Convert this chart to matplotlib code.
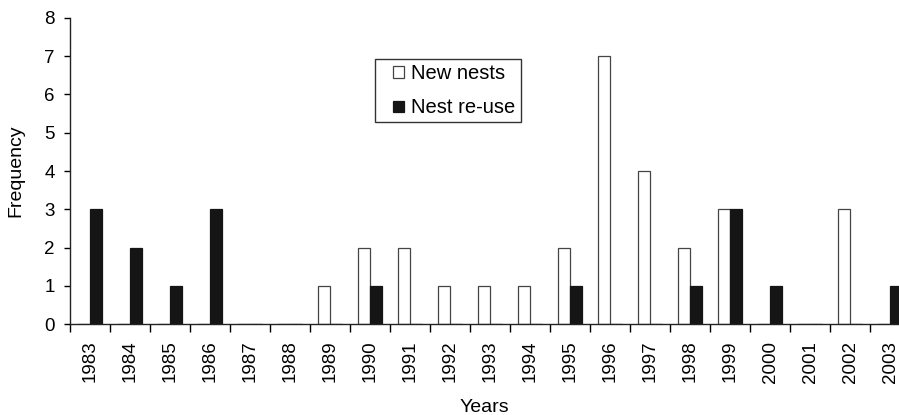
import numpy as np
import matplotlib
matplotlib.use("Agg")
import matplotlib.pyplot as plt
import matplotlib.patches as mpatches
from matplotlib.container import BarContainer
from matplotlib.legend_handler import HandlerPatch, update_from_first_child

plt.rcParams['font.family'] = ['Liberation Sans', 'DejaVu Sans']

# data
years = [str(y) for y in range(1983, 2004)]
new_nests = [0, 0, 0, 0, 0, 0, 1, 2, 2, 1, 1, 1, 2, 7, 4, 2, 3, 0, 0, 3, 0]
nest_reuse = [3, 2, 1, 3, 0, 0, 0, 1, 0, 0, 0, 0, 1, 0, 0, 1, 3, 1, 0, 0, 1]

W, H = 899, 415
fig = plt.figure(figsize=(W / 100, H / 100), dpi=100)
# axes spans 21 categories of ~40px from x=70, runs a bit past the right edge
ax = fig.add_axes([70 / W, 1 - 324 / H, 840 / W, (324 - 18) / H])

x = np.arange(len(years))
bw = 0.29
ax.bar(x - 0.145, new_nests, bw, color='white', edgecolor='#444444', linewidth=0.9,
       label='New nests')
ax.bar(x + 0.145, nest_reuse, bw, color='#151515', edgecolor='#151515', linewidth=0.9,
       label='Nest re-use')

ax.set_xlim(-0.5, len(years) - 0.5)
ax.set_ylim(0, 8)
ax.set_yticks(range(0, 9))
ax.tick_params(axis='y', direction='out', length=4, width=1, labelsize=13.5, pad=7)

# category labels centered, tick marks on boundaries
ax.set_xticks(x)
ax.set_xticklabels(years, rotation=90, fontsize=13.5)
ax.tick_params(axis='x', which='major', length=0, pad=12)
ax.set_xticks(np.arange(-0.5, len(years), 1), minor=True)
ax.tick_params(axis='x', which='minor', direction='out', length=6, width=1)

for s in ['top', 'right']:
    ax.spines[s].set_visible(False)
for s in ['left', 'bottom']:
    ax.spines[s].set_linewidth(1)
    ax.spines[s].set_color('#222222')

fig.text(16 / W, 1 - 171 / H, 'Frequency', rotation=90, ha='center', va='center',
         fontsize=14)
fig.text(484 / W, 1 - 407 / H, 'Years', ha='center', va='center', fontsize=14)


# small square key pushed to the right of the handle box
def square_key(legend, orig_handle, xdescent, ydescent, width, height, fontsize):
    s = 0.55 * fontsize
    return mpatches.Rectangle((-xdescent + width - s, -ydescent + (height - s) / 2), s, s)


leg = ax.legend(loc='upper left', bbox_to_anchor=(375 / W, 1 - 59 / H),
                bbox_transform=fig.transFigure, borderaxespad=0, fancybox=False,
                handlelength=1.2, handleheight=0.7, handletextpad=0.35,
                fontsize=14.5, borderpad=0.25, labelspacing=0.75,
                handler_map={BarContainer: HandlerPatch(patch_func=square_key,
                                                        update_func=update_from_first_child)})
leg.get_frame().set_edgecolor('black')
leg.get_frame().set_linewidth(1)

fig.savefig('out.png', dpi=100)
